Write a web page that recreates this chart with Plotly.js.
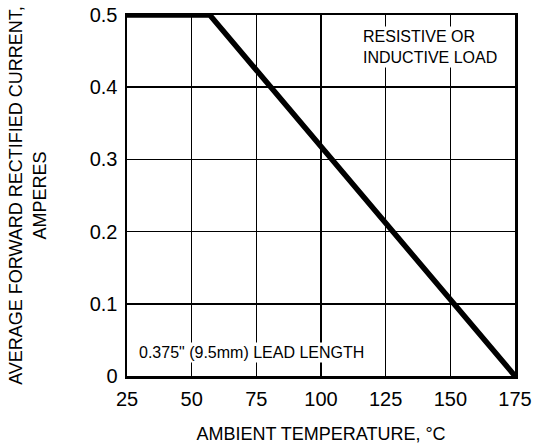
<!DOCTYPE html>
<html>
<head>
<meta charset="utf-8">
<script src="https://cdn.plot.ly/plotly-3.0.1.min.js"></script>
<style>html,body{margin:0;padding:0;background:#fff;}#chart{width:535px;height:446px;}</style>
</head>
<body>
<div id="chart"></div>
<script>
const temperature = [25, 57, 175];
const current = [0.5, 0.5, 0];
const xTicks = [25, 50, 75, 100, 125, 150, 175];
const yTicks = [0, 0.1, 0.2, 0.3, 0.4, 0.5];
const yTickLabels = ['0', '0.1', '0.2', '0.3', '0.4', '0.5'];

const trace = {
  x: temperature, y: current, mode: 'lines', type: 'scatter',
  line: {color: '#000', width: 5.5}, cliponaxis: false, hoverinfo: 'none'
};
const font = 'Liberation Sans, Arial, sans-serif';
const layout = {
  width: 535, height: 446,
  margin: {l: 127, r: 20, t: 15, b: 70},
  paper_bgcolor: '#fff', plot_bgcolor: '#fff',
  showlegend: false,
  font: {family: font, color: '#000'},
  xaxis: {
    range: [25, 175], tickvals: xTicks, ticktext: xTicks.map(String),
    showgrid: true, gridcolor: '#000', gridwidth: 1.6,
    showline: true, linecolor: '#000', linewidth: 2.5, mirror: true,
    zeroline: false, ticks: '', tickfont: {size: 20, family: font},
    ticklabelstandoff: 3,
    title: {text: 'AMBIENT TEMPERATURE, °C', font: {size: 18, family: font}, standoff: 19}
  },
  yaxis: {
    range: [0, 0.5], tickvals: yTicks, ticktext: yTickLabels,
    showgrid: true, gridcolor: '#000', gridwidth: 1.6,
    showline: true, linecolor: '#000', linewidth: 2.5, mirror: true,
    zeroline: false, ticks: '', tickfont: {size: 20, family: font},
    ticklabelstandoff: 3,
    title: {text: 'AVERAGE FORWARD RECTIFIED CURRENT,<br>AMPERES', font: {size: 18, family: font}, standoff: 39}
  },
  annotations: [
    {x: 115.5, y: 0.456, xref: 'x', yref: 'y', xanchor: 'left', text: 'RESISTIVE OR<br>INDUCTIVE LOAD', showarrow: false,
     font: {size: 16, family: font}, bgcolor: '#fff', align: 'left'},
    {x: 73.1, y: 0.032, xref: 'x', yref: 'y', text: '0.375" (9.5mm) LEAD LENGTH', showarrow: false,
     font: {size: 16, family: font}, bgcolor: '#fff'}
  ]
};
Plotly.newPlot('chart', [trace], layout, {displayModeBar: false, staticPlot: true});
</script>
</body>
</html>
